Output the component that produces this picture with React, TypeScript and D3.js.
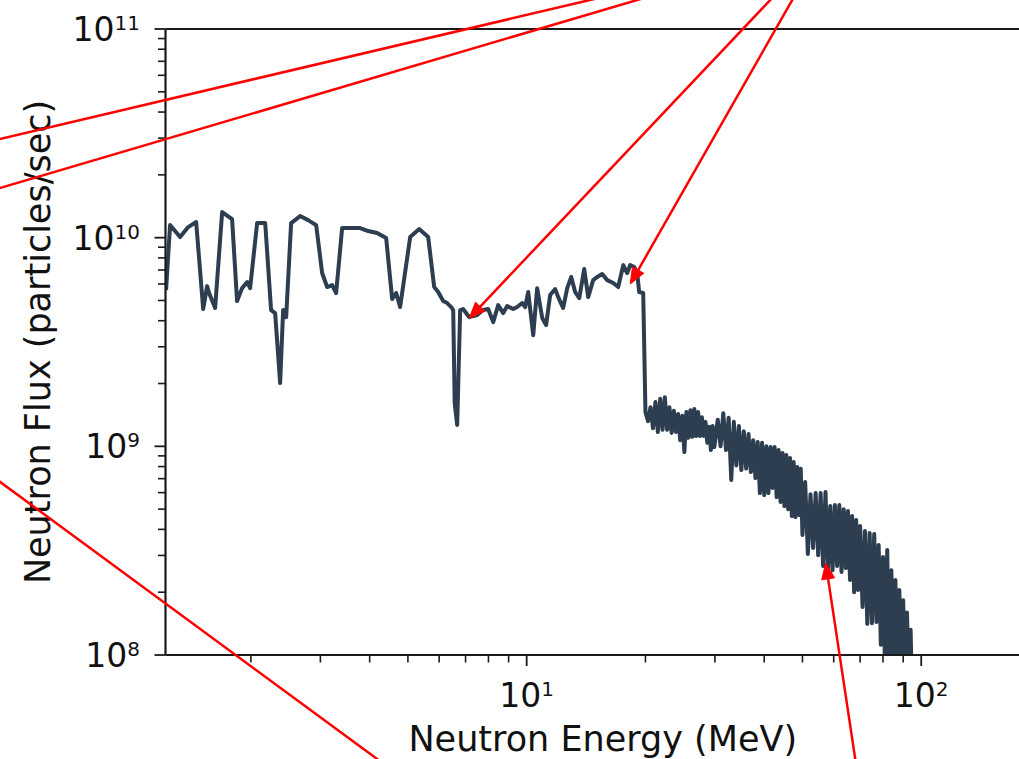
import React from "react";
import * as d3 from "d3";

// Neutron energy (MeV) and flux (particles/sec), smooth-ish low energy part
const lowEnergyMeV = [
  1.219, 1.248, 1.323, 1.387, 1.453, 1.514, 1.549, 1.567, 1.623, 1.691,
  1.792, 1.845, 1.9, 1.957, 1.991, 2.074, 2.174, 2.25, 2.304, 2.372,
  2.414, 2.457, 2.529, 2.666, 2.793, 2.927, 3.031, 3.121, 3.214, 3.289,
  3.406, 3.784, 3.965, 4.178, 4.404, 4.561, 4.669, 4.778, 5.067, 5.34,
  5.628, 5.829, 5.967, 6.143, 6.289, 6.437, 6.513, 6.57, 6.666, 6.783,
  6.902, 7.148, 7.49, 7.757, 7.987, 8.225, 8.469, 8.719, 8.926, 9.242,
  9.461, 9.741, 9.913, 10.09, 10.39, 10.63, 10.95, 11.2, 11.47, 11.81,
  12.02, 12.37, 12.67, 12.97, 13.27, 13.59, 13.99, 14.32, 14.74, 15.09,
  15.54, 16.0, 16.57, 17.06, 17.57, 17.98, 18.3, 18.73, 19.06, 19.28,
  19.74,
];
const lowEnergyFlux = [
  5.61e9, 1.149e10, 1.007e10, 1.124e10, 1.188e10, 4.55e9, 5.86e9, 5.43e9, 4.6e9, 1.327e10,
  1.228e10, 4.97e9, 5.73e9, 6.13e9, 5.73e9, 1.175e10, 1.175e10, 4.5e9, 4.35e9, 2.01e9,
  4.5e9, 4.16e9, 1.175e10, 1.269e10, 1.214e10, 1.149e10, 6.77e9, 5.8e9, 5.93e9, 5.43e9,
  1.112e10, 1.112e10, 1.076e10, 1.052e10, 9.96e9, 5.08e9, 5.43e9, 4.65e9, 1.007e10, 1.1e10,
  1.007e10, 5.8e9, 5.49e9, 4.97e9, 4.86e9, 4.65e9, 4.5e9, 1.61e9, 1.265e9, 4.5e9,
  4.55e9, 4.16e9, 4.26e9, 4.5e9, 4.55e9, 3.94e9, 4.75e9, 4.35e9, 4.7e9, 4.55e9,
  4.65e9, 4.86e9, 4.65e9, 5.49e9, 3.41e9, 5.73e9, 4.12e9, 3.81e9, 5.31e9, 5.67e9,
  5.19e9, 4.6e9, 5.73e9, 6.48e9, 5.49e9, 5.13e9, 7.07e9, 5.19e9, 6.26e9, 6.48e9,
  6.69e9, 6.26e9, 6.06e9, 5.8e9, 7.39e9, 6.77e9, 7.39e9, 7.23e9, 6.77e9, 5.49e9,
  5.43e9,
];

// Noisy high energy part
const highEnergyMeV = [
  20.0, 20.3, 20.6, 20.9, 21.2, 21.5, 21.8, 22.1, 22.4, 22.7,
  23.0, 23.3, 23.6, 23.9, 24.2, 24.5, 24.8, 25.1, 25.4, 25.7,
  26.0, 26.3, 26.6, 26.9, 27.2, 27.5, 27.8, 28.1, 28.4, 28.7,
  29.0, 29.3, 29.6, 29.9,
  30.5, 31.0, 31.5, 32.0, 32.5, 33.0, 33.5, 34.0, 34.5, 35.0,
  35.5, 36.0, 36.5, 37.0, 37.5, 38.0, 38.5, 39.0, 39.5, 40.0,
  40.5, 41.0, 41.5, 42.0, 42.5, 43.0, 43.5, 44.0, 44.5, 45.0,
  45.5, 46.0, 46.5, 47.0, 47.5, 48.0, 48.5, 49.0, 49.5, 50.0,
  50.8, 51.6, 52.4, 53.2, 54.0, 54.8, 55.6, 56.4, 57.2, 58.0,
  58.8, 59.6, 60.4, 61.2, 62.0, 62.8, 63.6, 64.4, 65.2, 66.0,
  66.8, 67.6, 68.4, 69.2, 70.0,
  71, 72, 73, 74, 75, 76, 77, 78, 79, 80,
  81, 82, 83, 84, 85, 86, 87, 88, 89, 90,
  91, 92, 93, 94, 95,
];
const highEnergyFlux = [
  1.46e9, 1.32e9, 1.54e9, 1.22e9, 1.63e9, 1.17e9, 1.69e9, 1.2e9, 1.72e9, 1.2e9,
  1.54e9, 1.16e9, 1.48e9, 1.17e9, 1.43e9, 1.07e9, 1.4e9, 9.39e8, 1.46e9, 1.1e9,
  1.49e9, 1.11e9, 1.51e9, 1.12e9, 1.46e9, 1.12e9, 1.38e9, 1.12e9, 1.31e9, 1.04e9,
  1.24e9, 9.6e8, 1.25e9, 9.92e8,
  1.34e9, 1.0e9, 1.44e9, 9.6e8, 1.37e9, 6.9e8, 1.31e9, 8.1e8, 1.25e9, 7.7e8,
  1.18e9, 7.83e8, 1.145e9, 7.53e8, 1.07e9, 7.05e8, 1.05e9, 5.97e8, 1.04e9, 5.84e8,
  1.0e9, 5.97e8, 9.92e8, 6.32e8, 9.92e8, 5.71e8, 9.6e8, 5.41e8, 9.29e8, 5.17e8,
  9.09e8, 5.0e8, 8.79e8, 4.63e8, 8.41e8, 4.58e8, 7.96e8, 4.69e8, 7.8e8, 3.76e8,
  6.75e8, 3.05e8, 5.9e8, 3.26e8, 5.97e8, 3.01e8, 5.97e8, 2.67e8, 6.04e8, 2.47e8,
  5.17e8, 2.55e8, 5.23e8, 2.67e8, 5.23e8, 2.5e8, 5.0e8, 2.61e8, 4.9e8, 2.29e8,
  4.63e8, 2.0e8, 4.44e8, 2.05e8, 4.15e8,
  1.7e8, 3.93e8, 1.41e8, 3.84e8, 1.42e8, 3.8e8, 1.44e8, 3.37e8, 1.12e8, 2.95e8,
  8.0e7, 3.19e8, 8.0e7, 2.55e8, 8.0e7, 2.29e8, 8.0e7, 2.05e8, 8.0e7, 1.83e8,
  8.0e7, 1.6e8, 8.0e7, 1.32e8, 5.0e7,
];

// Axis ticks
const xMajorTicks = [10, 100];
const xMajorExponents = ["1", "2"];
const yMajorTicks = [1e8, 1e9, 1e10, 1e11];
const yMajorExponents = ["8", "9", "10", "11"];

const xLabel = "Neutron Energy (MeV)";
const yLabel = "Neutron Flux (particles/sec)";

// Annotation arrows (data coordinates, from -> to)
const annotationFromMeV = [19.4, 25.97, 49.38, 54.28, 70.03, 5.37];
const annotationFromFlux = [1.569e11, 1.636e11, 1.956e11, 2.203e11, 2.21e7, 2.24e7];
const annotationToMeV = [0.3664, 0.3664, 7.15, 18.3, 57.28, 0.3664];
const annotationToFlux = [2.68e10, 1.519e10, 4.11e9, 6.0e9, 2.76e8, 9.34e8];
const annotationHasHead = [false, false, true, true, true, false];

export default function App() {
  const W = 1019;
  const H = 759;
  const left = 165.5;
  const right = 1040;
  const top = 29;
  const bottom = 655;
  const font = "'DejaVu Sans', Verdana, sans-serif";

  const x = d3.scaleLog().domain([1.215, 200]).range([left, right]);
  const y = d3.scaleLog().domain([1e8, 1e11]).range([bottom, top]);

  const energies = lowEnergyMeV.concat(highEnergyMeV);
  const fluxes = lowEnergyFlux.concat(highEnergyFlux);
  const pts: [number, number][] = energies.map((e, i) => [e, fluxes[i]]);
  const line = d3
    .line<[number, number]>()
    .x((d) => x(d[0]))
    .y((d) => y(d[1]));
  const pathD = line(pts) || "";

  const isMajor = (v: number) => Math.abs(Math.log10(v) - Math.round(Math.log10(v))) < 1e-9;
  const xMinor = x.ticks().filter((v) => !isMajor(v) && x(v) >= left - 0.1 && x(v) <= right + 0.1);
  const yMinor = y.ticks().filter((v) => !isMajor(v));

  const axisColor = "#1a1a1a";

  const arrows = annotationFromMeV.map((_, i) => {
    const x1 = x(annotationFromMeV[i]);
    const y1 = y(annotationFromFlux[i]);
    const x2 = x(annotationToMeV[i]);
    const y2 = y(annotationToFlux[i]);
    const ang = Math.atan2(y2 - y1, x2 - x1);
    const L = 16;
    const hw = 6.5;
    const bx = x2 - L * Math.cos(ang);
    const by = y2 - L * Math.sin(ang);
    const head = `${x2},${y2} ${bx + hw * Math.sin(ang)},${by - hw * Math.cos(ang)} ${bx - hw * Math.sin(ang)},${by + hw * Math.cos(ang)}`;
    return { x1, y1, x2: annotationHasHead[i] ? bx + 2 * Math.cos(ang) : x2, y2: annotationHasHead[i] ? by + 2 * Math.sin(ang) : y2, head, hasHead: annotationHasHead[i] };
  });

  return (
    <svg
      width={W}
      height={H}
      viewBox={`0 0 ${W} ${H}`}
      style={{ position: "absolute", left: 0, top: 0, display: "block", background: "#ffffff" }}
    >
      <defs>
        <clipPath id="plotClip">
          <rect x={left} y={top} width={right - left} height={bottom - top} />
        </clipPath>
      </defs>
      <rect x={0} y={0} width={W} height={H} fill="#ffffff" />

      {/* data line */}
      <path
        d={pathD}
        fill="none"
        stroke="#2c3e50"
        strokeWidth={4}
        strokeLinejoin="round"
        strokeLinecap="butt"
        clipPath="url(#plotClip)"
      />

      {/* spines */}
      <line x1={left} y1={top} x2={right} y2={top} stroke={axisColor} strokeWidth={2.2} />
      <line x1={left} y1={bottom} x2={right} y2={bottom} stroke={axisColor} strokeWidth={2.2} />
      <line x1={left} y1={top} x2={left} y2={bottom} stroke={axisColor} strokeWidth={2.2} />
      <line x1={right} y1={top} x2={right} y2={bottom} stroke={axisColor} strokeWidth={2.2} />

      {/* x ticks */}
      {xMinor.map((v, i) => (
        <line key={"xm" + i} x1={x(v)} x2={x(v)} y1={bottom} y2={bottom + 7.5} stroke={axisColor} strokeWidth={1.6} />
      ))}
      {xMajorTicks.map((v, i) => (
        <g key={"xM" + i}>
          <line x1={x(v)} x2={x(v)} y1={bottom} y2={bottom + 11} stroke={axisColor} strokeWidth={1.8} />
          <text x={x(v)} y={707} textAnchor="middle" fontFamily={font} fontSize={33} fill="#111">
            10
            <tspan fontSize={20} dy={-11}>
              {xMajorExponents[i]}
            </tspan>
          </text>
        </g>
      ))}

      {/* y ticks */}
      {yMinor.map((v, i) => (
        <line key={"ym" + i} x1={left - 7.5} x2={left} y1={y(v)} y2={y(v)} stroke={axisColor} strokeWidth={1.6} />
      ))}
      {yMajorTicks.map((v, i) => (
        <g key={"yM" + i}>
          <line x1={left - 11} x2={left} y1={y(v)} y2={y(v)} stroke={axisColor} strokeWidth={1.8} />
          <text x={140} y={y(v) + 12} textAnchor="end" fontFamily={font} fontSize={33} fill="#111">
            10
            <tspan fontSize={20} dy={-11}>
              {yMajorExponents[i]}
            </tspan>
          </text>
        </g>
      ))}

      {/* axis labels */}
      <text x={(left + right) / 2} y={751} textAnchor="middle" fontFamily={font} fontSize={35} fill="#111">
        {xLabel}
      </text>
      <text
        transform={`translate(50,${(top + bottom) / 2}) rotate(-90)`}
        textAnchor="middle"
        fontFamily={font}
        fontSize={35}
        fill="#111"
      >
        {yLabel}
      </text>

      {/* annotation arrows */}
      {arrows.map((a, i) => (
        <g key={"ar" + i}>
          <line x1={a.x1} y1={a.y1} x2={a.x2} y2={a.y2} stroke="#ff0000" strokeWidth={2.5} />
          {a.hasHead && <polygon points={a.head} fill="#ff0000" stroke="#ff0000" strokeWidth={1} />}
        </g>
      ))}
    </svg>
  );
}
